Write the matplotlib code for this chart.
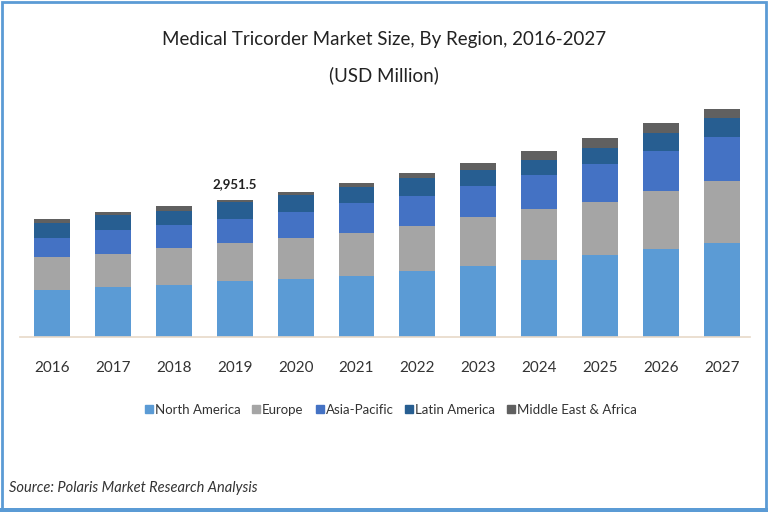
import matplotlib.pyplot as plt
from matplotlib.patches import Rectangle
from matplotlib.lines import Line2D

# ==============================
# Data (USD Million)
# ==============================
years = ["2016", "2017", "2018", "2019", "2020", "2021",
         "2022", "2023", "2024", "2025", "2026", "2027"]

north_america = [1012, 1084, 1120, 1213, 1243, 1307, 1415, 1523, 1652, 1760, 1883, 2025]
europe        = [717, 698, 790, 803, 890, 933, 969, 1062, 1092, 1148, 1262, 1335]
asia_pacific  = [396, 508, 502, 517, 560, 633, 646, 661, 739, 806, 862, 935]
latin_america = [330, 338, 286, 360, 360, 358, 381, 345, 323, 345, 375, 409]
mea           = [80, 58, 108, 58.5, 71, 86, 108, 144, 194, 215, 215, 200]

regions = ["North America", "Europe", "Asia-Pacific", "Latin America", "Middle East & Africa"]
series = [north_america, europe, asia_pacific, latin_america, mea]
colors = ["#5B9BD5", "#A5A5A5", "#4472C4", "#275E91", "#606060"]

label_year = "2019"
label_text = "2,951.5"

# ==============================
# Setup
# ==============================
plt.rcParams["font.family"] = ["Lato", "DejaVu Sans"]

fig = plt.figure(figsize=(7.68, 5.12), dpi=100)
ax = fig.add_axes([20 / 768, 0.342, 730 / 768, 0.463])

x = list(range(len(years)))
bottom = [0] * len(years)
for vals, name, c in zip(series, regions, colors):
    ax.bar(x, vals, width=0.59, bottom=bottom, color=c, label=name)
    bottom = [b + v for b, v in zip(bottom, vals)]

ax.set_xlim(-0.525, 11.46)
ax.set_ylim(0, 5100)
ax.set_yticks([])
ax.set_xticks(x)
ax.set_xticklabels(years, fontsize=11, color="#333333")
ax.tick_params(axis="x", length=0, pad=17)
for s in ["top", "right", "left"]:
    ax.spines[s].set_visible(False)
ax.spines["bottom"].set_color("#E8D9C8")
ax.spines["bottom"].set_linewidth(1.2)

# value label on 2019
i = years.index(label_year)
ax.text(i, bottom[i] + 200, label_text, ha="center", va="bottom",
        fontsize=9.5, fontweight="bold", color="#222222")

# ==============================
# Legend
# ==============================
handles = [Line2D([], [], marker="s", linestyle="none", markersize=5.5,
                  markerfacecolor=c, markeredgecolor=c) for c in colors]
fig.legend(handles, regions, loc="center", bbox_to_anchor=(0.508, 0.199),
           ncol=5, frameon=False, fontsize=9.5, handletextpad=0.05,
           columnspacing=0.8, handlelength=0.8, labelcolor="#333333")

# ==============================
# Titles and source
# ==============================
fig.text(0.5, 0.922, "Medical Tricorder Market Size, By Region, 2016-2027",
         ha="center", va="center", fontsize=13.5, color="#222222")
fig.text(0.5, 0.853, "(USD Million)", ha="center", va="center",
         fontsize=13.5, color="#222222")
fig.text(0.012, 0.047, "Source: Polaris Market Research Analysis",
         ha="left", va="center", fontsize=10.5, style="italic", color="#333333")

# ==============================
# Border
# ==============================
fig.patches.append(Rectangle((0.002, 0.006), 0.996, 0.99, transform=fig.transFigure,
                             fill=False, edgecolor="#5B9BD5", linewidth=2))
fig.patches.append(Rectangle((0, 0), 1, 0.008, transform=fig.transFigure,
                             facecolor="#5B9BD5", edgecolor="none"))

fig.savefig("out.png", dpi=100)
